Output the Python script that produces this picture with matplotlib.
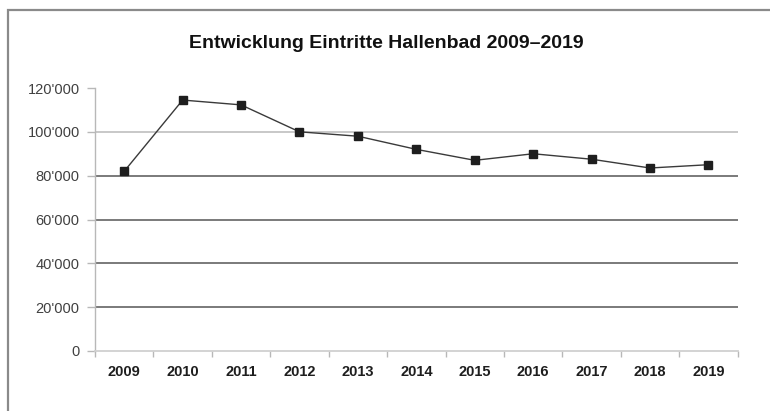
import matplotlib
matplotlib.use("Agg")
import matplotlib.pyplot as plt
from matplotlib.patches import Rectangle
import numpy as np

# === Data ===
years = ["2009", "2010", "2011", "2012", "2013", "2014",
         "2015", "2016", "2017", "2018", "2019"]
entries = [82000, 114500, 112300, 100000, 98000, 92000,
           87000, 90000, 87500, 83500, 85000]
y_ticks = [0, 20000, 40000, 60000, 80000, 100000, 120000]
title = "Entwicklung Eintritte Hallenbad 2009\u20132019"

plt.rcParams['font.family'] = ['Liberation Sans', 'DejaVu Sans']

fig = plt.figure(figsize=(7.7, 4.11), dpi=100)
ax = fig.add_axes([95 / 770, 1 - 351 / 411, (737.7 - 95) / 770, (351 - 88) / 411])

# outer frame (runs past right/bottom edge like in the scan)
fig.patches.append(Rectangle((8 / 770, -0.1), 1.2, 1.1 - 10 / 411,
                             transform=fig.transFigure, fill=False,
                             edgecolor='#8a8a8a', linewidth=1.6))

x = np.arange(len(years))

# gridlines: the scan shows 100k light, the rest darker
grid_colors = {20000: '#707070', 40000: '#707070', 60000: '#707070',
               80000: '#707070', 100000: '#c4c4c4'}
for v, c in grid_colors.items():
    ax.axhline(v, color=c, linewidth=1.3, zorder=1)

ax.plot(x, entries, color='#3a3a3a', linewidth=1.0, marker='s',
        markersize=5.5, markerfacecolor='#1e1e1e', markeredgecolor='#1e1e1e',
        zorder=3)

ax.set_xlim(-0.5, len(years) - 0.5)
ax.set_ylim(0, 120000)

ax.set_yticks(y_ticks)
ax.set_yticklabels([f"{v:,}".replace(",", "'") for v in y_ticks])
ax.set_xticks(x)
ax.set_xticklabels(years, fontweight='bold')
ax.set_xticks(np.arange(len(years) + 1) - 0.5, minor=True)

ax.tick_params(axis='y', length=6, width=1, color='#b8b8b8', pad=5,
               labelsize=10.5, labelcolor='#404040')
ax.tick_params(axis='x', which='major', length=0, pad=10,
               labelsize=10.5, labelcolor='#1e1e1e')
ax.tick_params(axis='x', which='minor', length=4, width=1, color='#b8b8b8')

for side in ['top', 'right']:
    ax.spines[side].set_visible(False)
ax.spines['left'].set_color('#b8b8b8')
ax.spines['bottom'].set_color('#d0d0d0')
ax.spines['left'].set_linewidth(1.0)
ax.spines['bottom'].set_linewidth(1.3)

fig.text(386 / 770, 1 - 44 / 411, title, ha='center', va='center',
         fontsize=14, fontweight='bold', color='#111111')

fig.savefig("out.png", dpi=100)
